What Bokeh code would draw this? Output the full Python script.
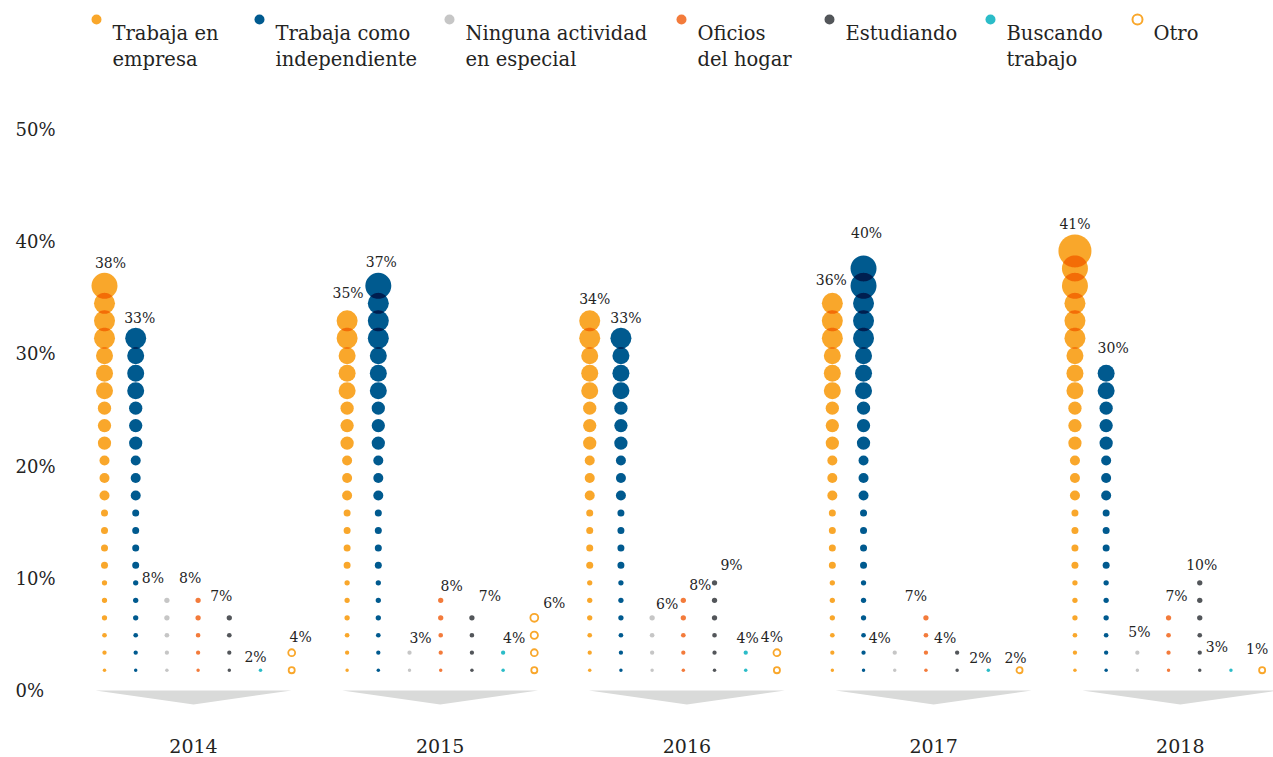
import math
from bokeh.plotting import figure
from bokeh.models import Range1d
from bokeh.embed import file_html
from bokeh.resources import INLINE
from bokeh.core.properties import value

# ---------------- data ----------------
YEARS = ["2014", "2015", "2016", "2017", "2018"]
CATEGORIES = ["Trabaja en empresa", "Trabaja como independiente",
              "Ninguna actividad en especial", "Oficios del hogar",
              "Estudiando", "Buscando trabajo", "Otro"]
LEGEND_LINES = [["Trabaja en", "empresa"], ["Trabaja como", "independiente"],
                ["Ninguna actividad", "en especial"], ["Oficios", "del hogar"],
                ["Estudiando"], ["Buscando", "trabajo"], ["Otro"]]

# percentage per category (order of CATEGORIES)
PCT_2014 = [38, 33, 8, 8, 7, 2, 4]
PCT_2015 = [35, 37, 3, 8, 7, 4, 6]
PCT_2016 = [34, 33, 6, 8, 9, 4, 4]
PCT_2017 = [36, 40, 4, 7, 4, 2, 2]
PCT_2018 = [41, 30, 5, 7, 10, 3, 1]

# number of dots stacked in each column
DOTS_2014 = [23, 20, 5, 5, 4, 1, 2]
DOTS_2015 = [21, 23, 2, 5, 4, 2, 4]
DOTS_2016 = [21, 20, 4, 5, 6, 2, 2]
DOTS_2017 = [22, 24, 2, 4, 2, 1, 1]
DOTS_2018 = [25, 18, 2, 4, 6, 1, 1]

Y_TICKS = [0, 10, 20, 30, 40, 50]

PCTS = [PCT_2014, PCT_2015, PCT_2016, PCT_2017, PCT_2018]
DOTS = [DOTS_2014, DOTS_2015, DOTS_2016, DOTS_2017, DOTS_2018]

# ---------------- styles / layout ----------------
COLORS = ["#F9A72B", "#005A8F", "#C6C6C6", "#F37B3B", "#53565A", "#2BBCC8", "#F9A72B"]
TEXT_COLOR = "#24241f"
FONT = value("DejaVu Serif")

W, H = 1273, 757
X_PX = 31.2          # px per column unit
Y_PX = 11.22         # px per percentage point
GS = 7.776           # column units between year groups
X0 = -104 / X_PX
Y1 = 690 / Y_PX
DOT_BASE = 1.81
DOT_STEP = 1.557
SIZE_BY_LEVEL = [3.5, 4.3, 4.7, 5.3, 5.3, 5.3, 7, 7, 7, 7, 10, 10, 10,
                 13.3, 13.3, 13.3, 17, 17, 17, 21, 21, 21, 26, 26, 33]
RING_EXTRA = 2.6

# label nudges in px
LABEL_DX = [[6, 4, -14, -8, -8, -5, 9], [1, 3, 11, 11, 18, 11, 20],
            [5, 5, 15, 17, 17, 2, -5], [-1, 3, -15, -10, -12, -8, -4],
            [0, 7, 2, 8, 2, -14, -5]]
LABEL_DY = [[0, 0, -10, -10, -9, -1, -2], [-7, -1, -3, -2, -9, -3, -1],
            [-1, 0, -1, -3, -5, -3, -2], [-3, -12, -3, -9, -3, 0, 1],
            [0, -7, -9, -9, -5, -11, -8]]

LEGEND_TEXT_PX = [112, 275, 465, 697, 845, 1006, 1153]
YEAR_C0_PX, YEAR_STEP_PX = 193, 246.7


def px2x(px):
    return X0 + px / X_PX


def px2y(py):
    return Y1 - py / Y_PX


def multiply(hexc):
    r, g, b = (int(hexc[i:i + 2], 16) for i in (1, 3, 5))
    return "#%02x%02x%02x" % (r * r // 255, g * g // 255, b * b // 255)


def lens(r1, r2, d, n=18):
    if r1 + r2 <= d:
        return None
    a = (d * d + r1 * r1 - r2 * r2) / (2 * d)
    if abs(a) >= r1 or abs(d - a) >= r2:
        return None
    al1 = math.acos(a / r1)
    al2 = math.acos((d - a) / r2)
    pts = []
    for i in range(n + 1):
        ph = math.pi / 2 - al1 + 2 * al1 * i / n
        pts.append((r1 * math.cos(ph), r1 * math.sin(ph)))
    for i in range(n + 1):
        ph = -math.pi / 2 - al2 + 2 * al2 * i / n
        pts.append((r2 * math.cos(ph), d + r2 * math.sin(ph)))
    return pts


p = figure(width=W, height=H, output_backend="svg", toolbar_location=None,
           x_range=Range1d(X0, X0 + W / X_PX), y_range=Range1d(Y1 - H / Y_PX, Y1),
           x_axis_location=None, y_axis_location=None, min_border=0,
           outline_line_color=None, background_fill_color="white",
           border_fill_color="white")
p.xgrid.visible = False
p.ygrid.visible = False

# grey pointers under each year
tri_xs, tri_ys = [], []
for g, yr in enumerate(YEARS):
    c = px2x(YEAR_C0_PX + g * YEAR_STEP_PX)
    hw = 98 / X_PX
    tri_xs.append([c - hw, c + hw, c])
    tri_ys.append([0, 0, -14 / Y_PX])
p.patches(tri_xs, tri_ys, fill_color="#D9DAD9", line_color=None)

# dots
fx, fy, fs, fc = [], [], [], []
rx, ry, rs = [], [], []
lens_xs, lens_ys, lens_c = [], [], []
lab_x, lab_y, lab_t = [], [], []
d_px = DOT_STEP * Y_PX
for g in range(len(YEARS)):
    for c in range(len(CATEGORIES)):
        xc = g * GS + c
        n = DOTS[g][c]
        for k in range(n):
            yk = DOT_BASE + k * DOT_STEP
            if c == 6:
                rx.append(xc); ry.append(yk); rs.append(SIZE_BY_LEVEL[k] + RING_EXTRA)
            else:
                fx.append(xc); fy.append(yk); fs.append(SIZE_BY_LEVEL[k]); fc.append(COLORS[c])
                if k + 1 < n:
                    pts = lens(SIZE_BY_LEVEL[k] / 2, SIZE_BY_LEVEL[k + 1] / 2, d_px)
                    if pts:
                        lens_xs.append([xc + px_ / X_PX for px_, _ in pts])
                        lens_ys.append([yk + py_ / Y_PX for _, py_ in pts])
                        lens_c.append(multiply(COLORS[c]))
        ktop = n - 1
        r = (SIZE_BY_LEVEL[ktop] + (RING_EXTRA if c == 6 else 0)) / 2
        ytop = DOT_BASE + ktop * DOT_STEP
        lab_x.append(xc + LABEL_DX[g][c] / X_PX)
        lab_y.append(ytop + (r + 10 - LABEL_DY[g][c]) / Y_PX)
        lab_t.append(f"{PCTS[g][c]}%")

p.scatter(x=fx, y=fy, size=fs, fill_color=fc, line_color=None, marker="circle")
if lens_xs:
    p.patches(xs=lens_xs, ys=lens_ys, fill_color=lens_c, line_color=None)
p.scatter(x=rx, y=ry, size=rs, fill_color="white", line_color=COLORS[6],
          line_width=1.8, marker="circle")

p.text(x=lab_x, y=lab_y, text=lab_t, text_font=FONT, text_font_size="14px",
       text_color=TEXT_COLOR, text_align="center", text_baseline="middle")

# y tick labels
p.text(x=[px2x(15)] * len(Y_TICKS), y=Y_TICKS, text=[f"{t}%" for t in Y_TICKS],
       text_font=FONT, text_font_size="18px", text_color=TEXT_COLOR,
       text_align="left", text_baseline="middle")

# year labels
p.text(x=[px2x(YEAR_C0_PX + g * YEAR_STEP_PX) for g in range(len(YEARS))],
       y=[px2y(745)] * len(YEARS), text=YEARS, text_font=FONT,
       text_font_size="19px", text_color=TEXT_COLOR, text_align="center",
       text_baseline="middle")

# legend
lg_cx, lg_cy, lg_col = [], [], []
lt_x, lt_y, lt_t = [], [], []
for i, lines in enumerate(LEGEND_LINES):
    tx = LEGEND_TEXT_PX[i]
    if i != 6:
        lg_cx.append(px2x(tx - 16)); lg_cy.append(px2y(19)); lg_col.append(COLORS[i])
    for j, line in enumerate(lines):
        lt_x.append(px2x(tx)); lt_y.append(px2y(33 + 26 * j)); lt_t.append(line)
p.scatter(x=lg_cx, y=lg_cy, size=10, fill_color=lg_col, line_color=None, marker="circle")
p.scatter(x=[px2x(LEGEND_TEXT_PX[6] - 16)], y=[px2y(19)], size=10, fill_color="white",
          line_color=COLORS[6], line_width=2, marker="circle")
p.text(x=lt_x, y=lt_y, text=lt_t, text_font=FONT, text_font_size="19.5px",
       text_color=TEXT_COLOR, text_align="left", text_baseline="middle")

open("out.html", "w").write(file_html(p, INLINE))
